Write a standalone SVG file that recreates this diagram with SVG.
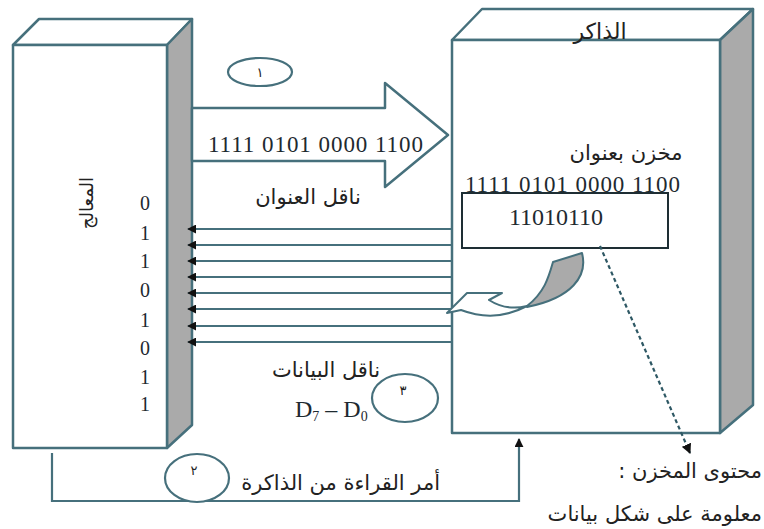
<svg xmlns="http://www.w3.org/2000/svg" width="764" height="529" viewBox="0 0 764 529">
<defs>
<style>
.ln{fill:none;stroke:#46707c;stroke-width:2.2}
.face{fill:#ffffff;stroke:#46707c;stroke-width:2.5;stroke-linejoin:round}
.side{fill:#aaaaaa;stroke:#46707c;stroke-width:2.5;stroke-linejoin:round}
.num{font-family:"Liberation Serif","Times New Roman",serif;fill:#1e2a30}
.ar{font-family:"DejaVu Sans",sans-serif;fill:#222222}
.ell{fill:#ffffff;stroke:#46707c;stroke-width:2.2}
</style>
<marker id="ah" viewBox="0 0 10 10" refX="9" refY="5" markerWidth="9" markerHeight="9" markerUnits="userSpaceOnUse" orient="auto">
<path d="M0,0 L10,5 L0,10 Z" fill="#111"/>
</marker>
<marker id="ah2" viewBox="0 0 10 10" refX="9" refY="5" markerWidth="10" markerHeight="10" markerUnits="userSpaceOnUse" orient="auto">
<path d="M0,0 L10,5 L0,10 Z" fill="#111"/>
</marker>
</defs>
<rect width="764" height="529" fill="#ffffff"/>

<g id="processor">
<polygon class="face" points="13,45 39,19 192,19 167,45"/>
<polygon class="side" points="167,45 192,19 192,425 167,448"/>
<rect class="face" x="13" y="45" width="154" height="403"/>
<text class="ar" font-size="18" text-anchor="middle" transform="translate(93,203) rotate(-90)">المعالج</text>
<g class="num" font-size="20" text-anchor="middle">
<text x="145" y="210">0</text>
<text x="145" y="240">1</text>
<text x="145" y="268">1</text>
<text x="145" y="297">0</text>
<text x="145" y="327">1</text>
<text x="145" y="355">0</text>
<text x="145" y="384">1</text>
<text x="145" y="411">1</text>
</g>
</g>

<g id="memory">
<polygon class="face" points="452,40 482,9 753,9 720,40"/>
<polygon class="side" points="720,40 753,9 753,405 720,433"/>
<rect class="face" x="452" y="40" width="268" height="393"/>
<text class="ar" font-size="22" text-anchor="middle" x="600" y="39">الذاكر</text>
<text class="ar" font-size="21" text-anchor="middle" x="626" y="160">مخزن بعنوان</text>
<text class="num" font-size="23" x="465" y="192" textLength="215" lengthAdjust="spacing">1111 0101 0000 1100</text>
</g>

<g id="cell">
<rect x="462" y="193" width="206" height="55" fill="#ffffff" stroke="#1e2e34" stroke-width="2"/>
<text class="num" font-size="24" text-anchor="middle" x="556" y="225">11010110</text>
</g>

<g id="address-bus">
<polygon class="face" stroke-width="2.2" points="192,108 385,108 385,83 448,135 385,187 385,161 192,161"/>
<text class="num" font-size="23" x="208" y="152" textLength="215" lengthAdjust="spacing">1111 0101 0000 1100</text>
<text class="ar" font-size="21" text-anchor="middle" x="308" y="204">ناقل العنوان</text>
<ellipse class="ell" cx="260" cy="72" rx="32" ry="14"/>
<text class="ar" font-size="13" text-anchor="middle" x="260" y="77">١</text>
</g>

<g id="connectors">
<g class="ln" marker-end="url(#ah)">
<line x1="452" y1="229" x2="188" y2="229"/>
<line x1="452" y1="245" x2="188" y2="245"/>
<line x1="452" y1="261" x2="188" y2="261"/>
<line x1="452" y1="277" x2="188" y2="277"/>
<line x1="452" y1="293" x2="188" y2="293"/>
<line x1="452" y1="309" x2="188" y2="309"/>
<line x1="452" y1="326" x2="188" y2="326"/>
<line x1="452" y1="342" x2="188" y2="342"/>
</g>
<polyline class="ln" points="52,453 52,501 519,501 519,439" marker-end="url(#ah)"/>
<line x1="600" y1="246" x2="690" y2="453" stroke="#2e5864" stroke-width="2.2" stroke-dasharray="4,3" marker-end="url(#ah2)"/>
</g>

<g id="curved-arrow">
<path d="M447,313 L467,293 L502,293 L489,300 Q506,311 527,306 Q495,323 461,310 Z" fill="#ffffff" stroke="#46707c" stroke-width="2" stroke-linejoin="round"/>
<path d="M527,306 C545,292 549,276 553,262 L582,253 C588,276 572,298 527,307 Z" fill="#aaaaaa" stroke="#46707c" stroke-width="2" stroke-linejoin="round"/>
</g>

<g id="data-bus-label">
<text class="ar" font-size="21" text-anchor="middle" x="326" y="377">ناقل البيانات</text>
<text class="num" font-size="24" x="295" y="417">D<tspan font-size="14" dy="4">7</tspan><tspan dy="-4"> – D</tspan><tspan font-size="14" dy="4">0</tspan></text>
<ellipse class="ell" cx="405" cy="398" rx="33" ry="24" style="fill:none"/>
<text class="ar" font-size="13" text-anchor="middle" x="403" y="395">٣</text>
</g>

<g id="read-command">
<ellipse class="ell" cx="197" cy="478" rx="32" ry="24"/>
<text class="ar" font-size="13" text-anchor="middle" x="194" y="475">٢</text>
<text class="ar" font-size="21" text-anchor="end" x="440" y="490">أمر القراءة من الذاكرة</text>
</g>

<g id="content-label">
<text class="ar" font-size="21" direction="rtl" text-anchor="start" x="762" y="478">محتوى المخزن :</text>
<text class="ar" font-size="21" text-anchor="end" x="762" y="521">معلومة على شكل بيانات</text>
</g>
</svg>
